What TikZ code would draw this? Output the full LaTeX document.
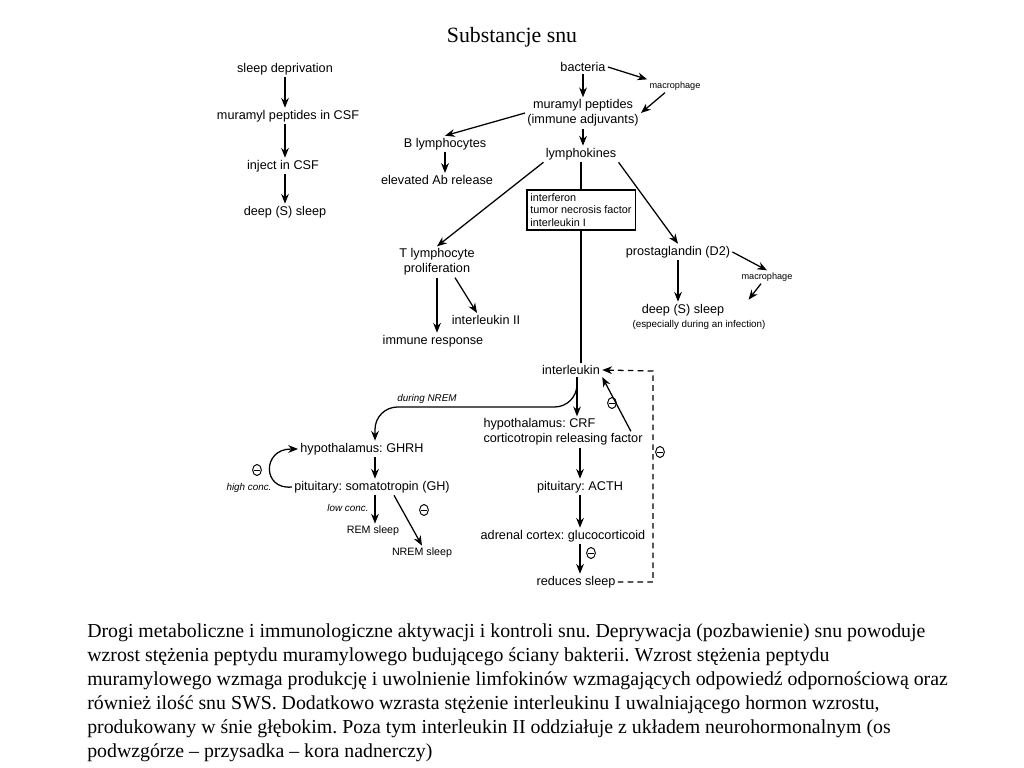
\documentclass[tikz,border=0pt]{standalone}
\usepackage{fontspec}
\setmainfont{Liberation Serif}
\setsansfont{Liberation Sans}
\usepackage{tikz}
\usetikzlibrary{arrows.meta, positioning, calc, shapes.geometric}
\frenchspacing

\begin{document}
\begin{tikzpicture}[x=0.025cm, y=-0.025cm,
  lbl/.style={font=\sffamily\fontsize{9}{10.5}\selectfont, inner sep=1.5pt, align=center},
  small/.style={font=\sffamily\fontsize{7.6}{8.9}\selectfont, inner sep=1.5pt},
  tiny/.style={font=\sffamily\fontsize{6.5}{7.5}\selectfont, inner sep=1.5pt},
  note/.style={font=\sffamily\itshape\fontsize{7}{8}\selectfont, inner sep=1pt},
  inh/.style={ellipse, draw, line width=0.7pt, minimum width=6.2pt, minimum height=7.8pt, inner sep=0pt,
              path picture={\draw[line width=0.7pt] ([xshift=1.2pt]path picture bounding box.west)
                -- ([xshift=-1.2pt]path picture bounding box.east);}},
  arrow/.style={-{Stealth[length=7pt, width=5.5pt]}, line width=0.9pt},
  caption/.style={font=\fontsize{14.1}{17.07}\selectfont, align=left, inner sep=0pt}
]
  \useasboundingbox (0,0) rectangle (1024,768);

  \node[font=\fontsize{15.5}{18}\selectfont] (title) at (512,37) {Substancje snu};

  % left chain
  \node[lbl] (deprive) at (285,69)  {sleep deprivation};
  \node[lbl] (mpcsf)   at (288,116) {muramyl peptides in CSF};
  \node[lbl] (inject)  at (283,166) {inject in CSF};
  \node[lbl] (deepa)   at (285,212) {deep (S) sleep};

  \draw[arrow] (deprive.south) -- (deprive.south |- mpcsf.north);
  \draw[arrow] (deprive.south |- mpcsf.south) -- (deprive.south |- inject.north);
  \draw[arrow] (deprive.south |- inject.south) -- (deprive.south |- deepa.north);

  % immune part
  \node[lbl] (bacteria) at (583,67)  {bacteria};
  \node[tiny] (macroa)  at (675,86)  {macrophage};
  \node[lbl] (muramyl)  at (583,113) {muramyl peptides\\(immune adjuvants)};
  \node[lbl] (blymph)   at (445,144) {B lymphocytes};
  \node[lbl] (abrel)    at (437,180) {elevated Ab release};
  \node[lbl] (lymphok)  at (581,154) {lymphokines};
  \node[small, draw, line width=0.8pt, align=left, inner sep=2.5pt,
        font=\sffamily\fontsize{7.7}{8.9}\selectfont] (cytbox) at (581,210)
        {interferon\\tumor necrosis factor\\interleukin I};
  \node[lbl] (tlymph)   at (437,262) {T lymphocyte\\proliferation};
  \node[lbl] (il2)      at (486,320) {interleukin II};
  \node[lbl] (immresp)  at (433,341) {immune response};
  \node[lbl] (prosta)   at (678,252) {prostaglandin (D2)};
  \node[tiny] (macrob)  at (767,277) {macrophage};
  \node[lbl] (deepb)    at (683,310) {deep (S) sleep};
  \node[small, font=\sffamily\fontsize{7}{8}\selectfont] (infect) at (699,325) {(especially during an infection)};

  \draw[arrow] (bacteria.south) -- (bacteria.south |- muramyl.north);
  \draw[arrow] (bacteria.east) -- (macroa.north west);
  \draw[arrow] ($(macroa.south)+(-10,0)$) -- (muramyl.east);
  \draw[arrow] (muramyl.west) -- (blymph.north);
  \draw[arrow] (blymph.south) -- (blymph.south |- abrel.north);
  \draw[arrow] (bacteria.south |- muramyl.south) -- (bacteria.south |- lymphok.north);
  \draw[arrow] (lymphok.south west) -- (tlymph.north);
  \draw[arrow] (lymphok.south east) -- (prosta.north);
  \draw[line width=0.9pt] (lymphok.south) -- (lymphok.south |- cytbox.north);
  \draw[arrow] (tlymph.south) -- (tlymph.south |- immresp.north);
  \draw[arrow] ($(tlymph.south)+(18,0)$) -- ($(il2.north)+(-9,0)$);
  \draw[arrow] (prosta.south) -- (prosta.south |- deepb.north);
  \draw[arrow] (prosta.east) -- (macrob.north);
  \draw[arrow] ($(macrob.south)+(-6,0)$) -- ($(deepb.north east)+(22,-2)$);

  % neurohormonal part
  \node[lbl] (interleukin) at (571,370) {interleukin};
  \node[lbl, align=left] (crf) at (563,432) {hypothalamus: CRF\\corticotropin releasing factor};
  \node[lbl] (acth)    at (580,487) {pituitary: ACTH};
  \node[lbl] (gluco)   at (563,536) {adrenal cortex: glucocorticoid};
  \node[lbl] (reduces) at (576,582) {reduces sleep};
  \node[lbl] (ghrh)    at (362,449) {hypothalamus: GHRH};
  \node[lbl] (gh)      at (372,487) {pituitary: somatotropin (GH)};
  \node[small] (remsl)  at (373,531) {REM sleep};
  \node[small] (nremsl) at (422,553) {NREM sleep};

  \node[note] (duringnrem) at (427,399) {during NREM};
  \node[note] (highconc)   at (249,488) {high conc.};
  \node[note] (lowconc)    at (348,508) {low conc.};

  \coordinate (ilout) at ($(interleukin.south)+(6,0)$);
  \coordinate (nremrow) at (375,407);
  \coordinate (fbtop) at (653,371);

  \draw[line width=0.9pt] (cytbox.south) -- (cytbox.south |- interleukin.north);
  \draw[arrow, rounded corners=16] (ilout) |- (nremrow) -- (nremrow |- ghrh.north);
  \draw[arrow] (ilout) -- (ilout |- crf.north);
  \draw[arrow] ($(crf.north east)+(-14,15)$) -- (interleukin.south east);
  \draw[arrow] (acth.north |- crf.south) -- (acth.north);
  \draw[arrow] (acth.south) -- (acth.south |- gluco.north);
  \draw[arrow] (acth.south |- gluco.south) -- (acth.south |- reduces.north);
  \draw[arrow, dash pattern=on 4pt off 3pt] (reduces.east) -| (fbtop) -- (interleukin.east);

  \draw[arrow] (nremrow |- ghrh.south) -- (nremrow |- gh.north);
  \draw[arrow] (gh.west) .. controls (262,490) and (262,449) .. (291,449) -- (ghrh.west);
  \draw[arrow] (nremrow |- gh.south) -- (nremrow |- remsl.north);
  \draw[arrow] ($(gh.south)+(22,0)$) -- (nremsl.north);

  \node[inh] (inha) at (612,403) {};
  \node[inh] (inhb) at (660,452) {};
  \node[inh] (inhc) at (591,553) {};
  \node[inh] (inhd) at (257,470) {};
  \node[inh] (inhe) at (424,510) {};

  \node[caption, anchor=north west] (caption) at (87,623)
  {Drogi metaboliczne i immunologiczne aktywacji i kontroli snu. Deprywacja (pozbawienie) snu powoduje\\
   wzrost stężenia peptydu muramylowego budującego ściany bakterii. Wzrost stężenia peptydu\\
   muramylowego wzmaga produkcję i uwolnienie limfokinów wzmagających odpowiedź odpornościową oraz\\
   również ilość snu SWS. Dodatkowo wzrasta stężenie interleukinu I uwalniającego hormon wzrostu,\\
   produkowany w śnie głębokim. Poza tym interleukin II oddziałuje z układem neurohormonalnym (os\\
   podwzgórze – przysadka – kora nadnerczy)};
\end{tikzpicture}
\end{document}
